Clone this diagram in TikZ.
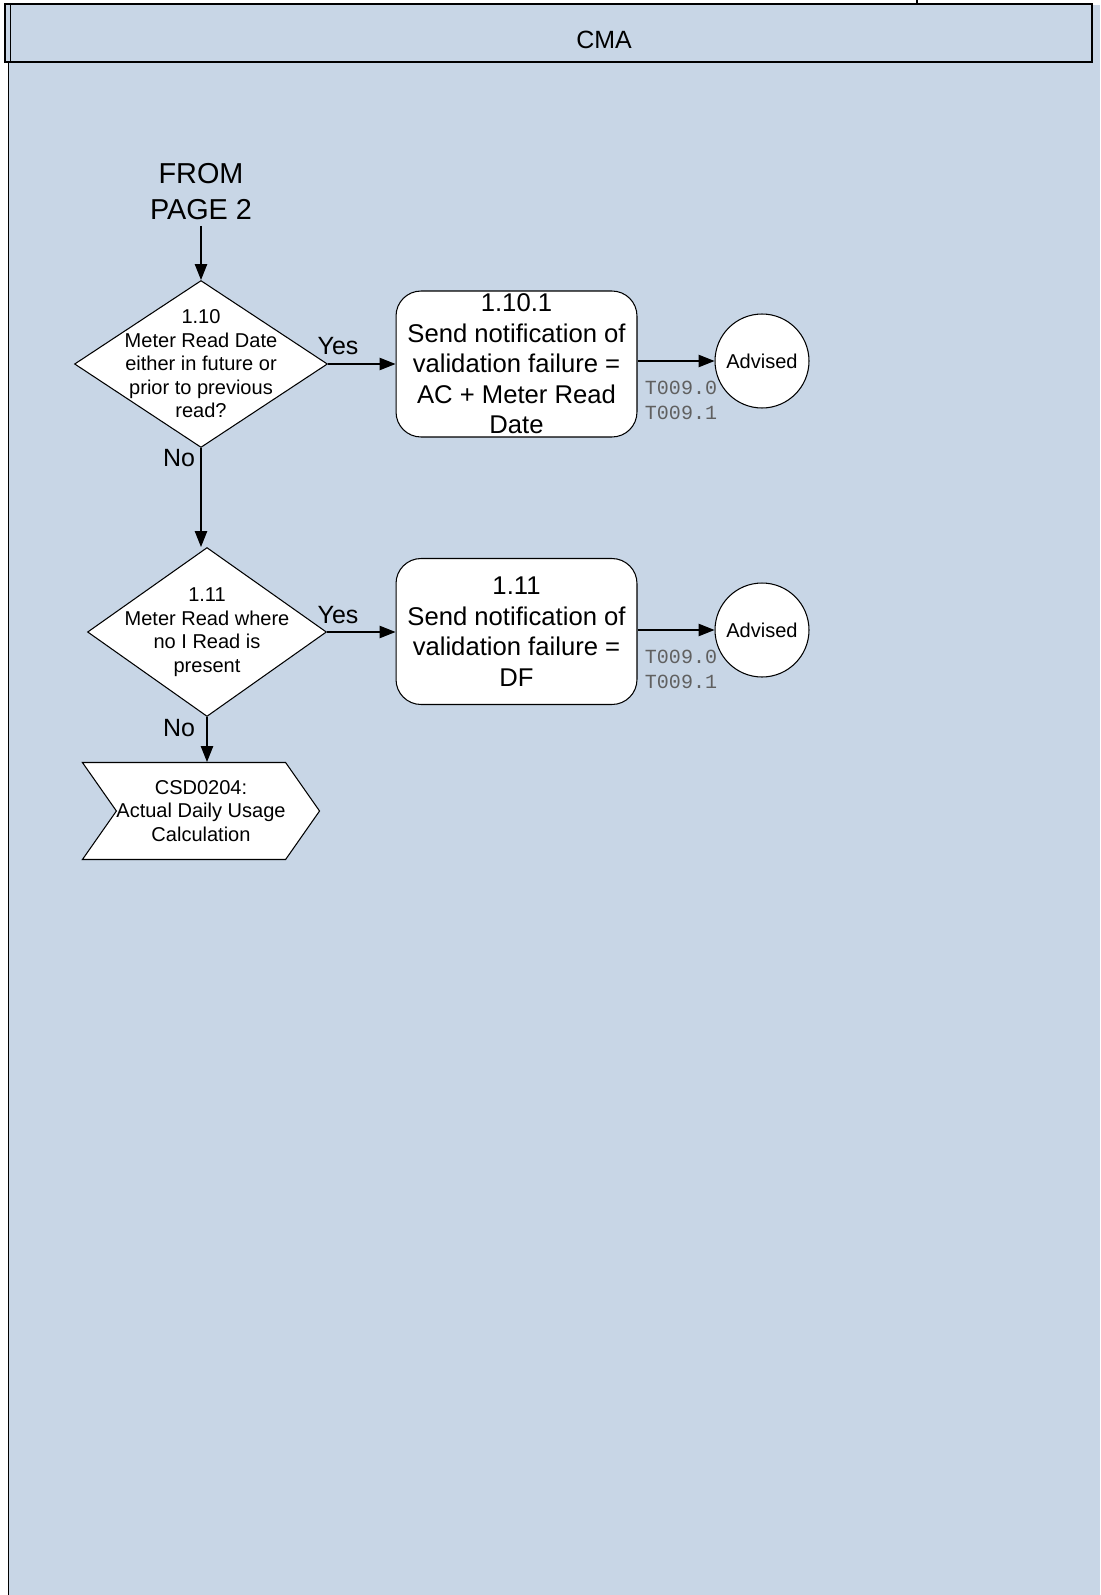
\documentclass[tikz,border=0pt]{standalone}
\usepackage{fontspec}
\setmainfont{Liberation Sans}
\setmonofont{Liberation Mono}
\usetikzlibrary{shapes.geometric, shapes.symbols, arrows.meta}

\definecolor{lanebg}{RGB}{200,214,230}
\definecolor{codegrey}{RGB}{96,96,96}

\newcommand{\diafont}{\fontsize{11.4}{13.4}\selectfont}
\newcommand{\boxfont}{\fontsize{14.6}{17.4}\selectfont}
\newcommand{\bigfont}{\fontsize{16.4}{20.5}\selectfont}
\newcommand{\ansfont}{\fontsize{14.2}{17}\selectfont}
\newcommand{\codefont}{\ttfamily\fontsize{11.4}{14.2}\selectfont}

\begin{document}
\begin{tikzpicture}[
  x=0.02cm, y=-0.02cm,
  decision/.style={diamond, draw=black, fill=white, line width=0.6pt, inner sep=0pt},
  dtext/.style={align=center, font=\diafont, inner sep=0pt},
  proc/.style={rectangle, rounded corners=0.5cm, draw=black, fill=white, line width=0.6pt,
    minimum width=4.82cm, minimum height=2.92cm, inner sep=0pt, align=center, font=\boxfont},
  term/.style={circle, draw=black, fill=white, line width=0.6pt, minimum size=1.88cm,
    inner sep=0pt, font=\diafont},
  offpage/.style={signal, signal to=east, signal from=west, signal pointer angle=110,
    draw=black, fill=white, line width=0.6pt, minimum width=4.33cm, minimum height=1.94cm,
    inner sep=0pt, align=center, font=\diafont},
  flow/.style={-{Triangle[length=9pt,width=7pt]}, line width=0.6pt},
  ans/.style={font=\ansfont, inner sep=0pt},
  tcode/.style={font=\codefont, text=codegrey, align=left, inner sep=0pt}
]
  \useasboundingbox (0,0) rectangle (1100,1595);

  % Carril de fondo y cabecera
  \fill[lanebg] (8,5) rectangle (1100,1595);
  \draw[line width=1.1pt] (8.5,4) -- (8.5,1595);
  \draw[line width=1.2pt, fill=lanebg] (5,4) rectangle (1092,62);
  \draw[line width=0.5pt] (10.5,4) -- (10.5,62);
  \draw[line width=0.6pt] (917,0) -- (917,5);
  \node[font=\ansfont] (cma) at (604,40) {CMA};

  % Entrada desde la pagina anterior
  \node[align=center, font=\bigfont, inner sep=3pt] (from) at (201,192) {FROM\\PAGE 2};

  % Decisiones
  \node[decision, minimum width=5.06cm, minimum height=3.34cm,
    label={[dtext]center:{1.10\\Meter Read Date\\either in future or\\prior to previous\\read?}}] (d1) at (201,364) {};
  \node[decision, minimum width=4.78cm, minimum height=3.38cm,
    label={[dtext]center:{1.11\\Meter Read where\\no I Read is\\present}}] (d2) at (207,632) {};

  % Procesos de notificacion
  \node[proc] (b1) at (516.5,364) {1.10.1\\Send notification of\\validation failure =\\AC + Meter Read\\Date};
  \node[proc] (b2) at (516.5,631.5) {1.11\\Send notification of\\validation failure =\\DF};

  % Terminales
  \node[term] (c1) at (762,361) {Advised};
  \node[term] (c2) at (762,630) {Advised};

  % Codigos de transaccion
  \node[tcode] (t1) at (681,400.5) {T009.0\\T009.1};
  \node[tcode] (t2) at (681,669) {T009.0\\T009.1};

  % Salida hacia otro proceso
  \node[offpage] (csd) at (201,811) {CSD0204:\\Actual Daily Usage\\Calculation};

  % Etiquetas Yes / No
  \node[ans] (yes1) at (338,346) {Yes};
  \node[ans] (yes2) at (338,615) {Yes};
  \node[ans] (no1) at (179,458) {No};
  \node[ans] (no2) at (179,728) {No};

  % Conectores
  \draw[flow] (from) -- (d1.north);
  \draw[flow] (d1.east) -- (b1.west);
  \draw[flow] (b1.east |- c1.west) -- (c1.west);
  \draw[flow] (d1.south) -- (d1.south |- d2.north);
  \draw[flow] (d2.east) -- (d2.east -| b2.west);
  \draw[flow] (b2.east |- c2.west) -- (c2.west);
  \draw[flow] (d2.south) -- (d2.south |- csd.north);

\end{tikzpicture}
\end{document}
